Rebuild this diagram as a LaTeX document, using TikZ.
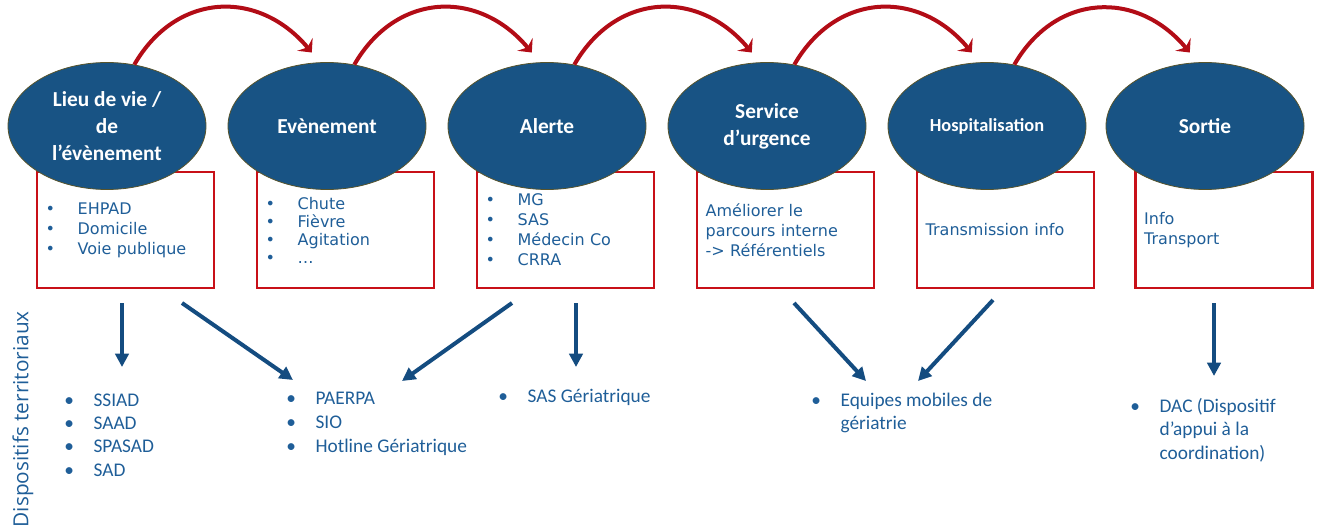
\documentclass[tikz,border=0pt]{standalone}
\usepackage{fontspec}
\setmainfont{DejaVu Sans}
\newfontfamily\calfont{Carlito}
\newfontfamily\opfont{Open Sans}
\usepackage{xcolor}
\definecolor{ellblue}{RGB}{24,83,132}
\definecolor{txtblue}{RGB}{31,94,152}
\definecolor{arrblue}{RGB}{20,76,128}
\definecolor{boxred}{RGB}{200,16,24}
\definecolor{arcred}{RGB}{178,12,22}
\usepackage{tikz}
\usetikzlibrary{shapes.geometric,arrows.meta}

\newcommand{\bt}{\makebox[24pt][l]{\textbullet}}
\newcommand{\bb}{\makebox[22pt][l]{\textbullet}}

\begin{document}
\begin{tikzpicture}[x=0.75pt,y=-0.75pt]
	\tikzstyle{etape}=[ellipse,draw=olive!50!black,line width=0.6pt,fill=ellblue,text=white,minimum width=148.5pt,minimum height=95.25pt,inner sep=0pt,align=center,font=\calfont\bfseries\fontsize{16}{20}\selectfont];
	\tikzstyle{cadre}=[draw=boxred,line width=2pt,text=txtblue,text width=119.75pt,minimum height=87pt,inner xsep=6.5pt,align=left,font=\fontsize{12}{15}\selectfont];
	\tikzstyle{liste}=[anchor=west,inner sep=0pt,text=txtblue,align=left,font=\calfont\fontsize{14.5}{17.5}\selectfont];
	\tikzstyle{suite}=[arcred,line width=3pt,-{Stealth[length=8pt,width=15pt,inset=3pt]}];
	\tikzstyle{lien}=[arrblue,line width=3pt,-{Triangle[length=10pt,width=10pt]}];
	\useasboundingbox (0,0) rectangle (1319,531);
	%% Boxes
	\node[cadre] (b1) at (125.5,230) {\bt EHPAD\\\bt Domicile\\\bt Voie publique};
	\node[cadre,font=\fontsize{12}{13.5}\selectfont] (b2) at (345.5,230) {\bt Chute\\\bt Fièvre\\\bt Agitation\\\bt …};
	\node[cadre] (b3) at (565.5,230) {\bt MG\\\bt SAS\\\bt Médecin Co\\\bt CRRA};
	\node[cadre] (b4) at (785.5,230) {Améliorer le\\parcours interne\\-> Référentiels};
	\node[cadre] (b5) at (1005.5,230) {Transmission info};
	\node[cadre] (b6) at (1224,230) {Info\\Transport};
	%% Steps
	\node[etape] (e1) at (107,126) {Lieu de vie /\\de\\l’évènement};
	\node[etape] (e2) at (327,126) {Evènement};
	\node[etape] (e3) at (547,126) {Alerte};
	\node[etape] (e4) at (767,126) {Service\\d’urgence};
	\node[etape,font=\calfont\bfseries\fontsize{13.8}{17}\selectfont] (e5) at (987,126) {Hospitalisation};
	\node[etape] (e6) at (1205,126) {Sortie};
	%% Sequence
	\draw[suite] (e1.66) to[out=60,in=130,looseness=1.2] ([xshift=-3pt,yshift=7.5pt]e2.100);
	\draw[suite] (e2.66) to[out=60,in=130,looseness=1.2] ([xshift=-3pt,yshift=7.5pt]e3.100);
	\draw[suite] (e3.66) to[out=60,in=130,looseness=1.2] ([xshift=-3pt,yshift=7.5pt]e4.100);
	\draw[suite] (e4.66) to[out=60,in=130,looseness=1.2] ([xshift=-3pt,yshift=7.5pt]e5.100);
	\draw[suite] (e5.66) to[out=60,in=130,looseness=1.2] ([xshift=-3pt,yshift=7.5pt]e6.100);
	%% Territorial devices
	\node[rotate=90,anchor=east,inner sep=0pt,text=txtblue,font=\opfont\fontsize{15.6}{19}\selectfont] (dt) at (23,311) {Dispositifs territoriaux};
	\node[liste] (l1) at (64,435) {\bb SSIAD\\\bb SAAD\\\bb SPASAD\\\bb SAD};
	\node[liste,font=\calfont\fontsize{14.5}{18}\selectfont] (l2) at (286,424) {\bb PAERPA\\\bb SIO\\\bb Hotline Gériatrique};
	\node[liste] (l3) at (498,397) {\bb SAS Gériatrique};
	\node[liste] (l4) at (811,413) {\bb Equipes mobiles de\\\hspace*{22pt}gériatrie};
	\node[liste] (l5) at (1130,430) {\bb DAC (Dispositif\\\hspace*{22pt}d’appui à la\\\hspace*{22pt}coordination)};
	%% Links
	\coordinate (s1) at (122,303); \coordinate (t1) at (122,367);
	\coordinate (s2) at (182,303); \coordinate (t2) at (293,380);
	\coordinate (s3) at (512,303); \coordinate (t3) at (402,381);
	\coordinate (s4) at (576,303); \coordinate (t4) at (576,367);
	\coordinate (s5) at (794,303); \coordinate (t5) at (866,381);
	\coordinate (s6) at (993,300); \coordinate (t6) at (918,381);
	\coordinate (s7) at (1214,303); \coordinate (t7) at (1214,376);
	\draw[lien] (s1) -- (t1);
	\draw[lien] (s2) -- (t2);
	\draw[lien] (s3) -- (t3);
	\draw[lien] (s4) -- (t4);
	\draw[lien] (s5) -- (t5);
	\draw[lien] (s6) -- (t6);
	\draw[lien] (s7) -- (t7);
\end{tikzpicture}
\end{document}
